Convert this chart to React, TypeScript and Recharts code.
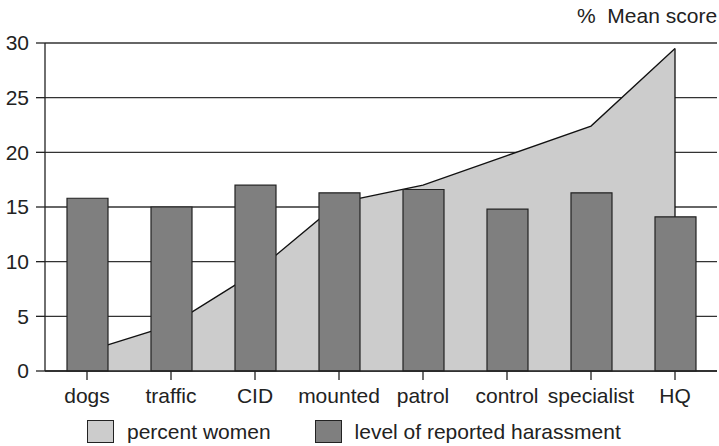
import { ComposedChart, Area, Bar, XAxis, YAxis, CartesianGrid, Legend, ReferenceLine } from 'recharts';

// #region Data
const units = ['dogs', 'traffic', 'CID', 'mounted', 'patrol', 'control', 'specialist', 'HQ'];
const percentWomen = [1.8, 4.2, 9.0, 15.4, 17.0, 19.7, 22.4, 29.5];
const harassment = [15.8, 15.0, 17.0, 16.3, 16.6, 14.8, 16.3, 14.1];
const yTicks = [0, 5, 10, 15, 20, 25, 30];
// #endregion

const data = units.map((name, i) => ({
  name,
  women: percentWomen[i],
  harassment: harassment[i],
}));

const last = units.length - 1;
const font = '"Liberation Sans", Arial, sans-serif';
const ink = '#222';

const LegendBox = () => (
  <div
    style={{
      height: 35,
      display: 'flex',
      alignItems: 'flex-start',
      paddingLeft: 87,
      paddingTop: 9,
      boxSizing: 'border-box',
      fontFamily: font,
      fontSize: 21,
      color: ink,
    }}
  >
    <span style={{ width: 25, height: 21, background: '#cccccc', border: `1.5px solid ${ink}` }} />
    <span style={{ marginLeft: 13, lineHeight: '24px', marginRight: 44 }}>percent women</span>
    <span style={{ width: 25, height: 21, background: '#7f7f7f', border: `1.5px solid ${ink}` }} />
    <span style={{ marginLeft: 13, lineHeight: '24px' }}>level of reported harassment</span>
  </div>
);

const App = () => {
  return (
    <div style={{ position: 'absolute', left: 0, top: 0, width: 719, height: 446, background: '#fff' }}>
      <div
        style={{
          position: 'absolute',
          left: 577,
          top: 5,
          fontFamily: font,
          fontSize: 21,
          lineHeight: '21px',
          color: ink,
          whiteSpace: 'pre',
        }}
      >
        %  Mean score
      </div>
      <ComposedChart
        width={719}
        height={446}
        data={data}
        margin={{ top: 43, right: 2, left: 0, bottom: 0 }}
        style={{ fontFamily: font }}
      >
        <CartesianGrid vertical={false} stroke="#333" strokeWidth={1.3} />
        <XAxis
          dataKey="name"
          height={40}
          tickSize={9}
          tickMargin={8}
          stroke={ink}
          strokeWidth={1.3}
          tick={{ fill: ink, fontSize: 21 }}
          interval={0}
        />
        <YAxis
          width={45}
          domain={[0, 30]}
          ticks={yTicks}
          tickSize={9}
          tickMargin={7}
          stroke={ink}
          strokeWidth={1.3}
          tick={{ fill: ink, fontSize: 21 }}
        />
        <Legend verticalAlign="bottom" content={<LegendBox />} wrapperStyle={{ left: 0, width: 719, height: 35 }} />
        <Area
          type="linear"
          dataKey="women"
          fill="#cccccc"
          fillOpacity={1}
          stroke="#111"
          strokeWidth={1.3}
          isAnimationActive={false}
        />
        <ReferenceLine
          segment={[
            { x: units[last], y: harassment[last] },
            { x: units[last], y: percentWomen[last] },
          ]}
          stroke="#111"
          strokeWidth={1.3}
        />
        <Bar dataKey="harassment" fill="#7f7f7f" stroke={ink} strokeWidth={1.2} barSize={41} isAnimationActive={false} />
      </ComposedChart>
    </div>
  );
};

export default App;
